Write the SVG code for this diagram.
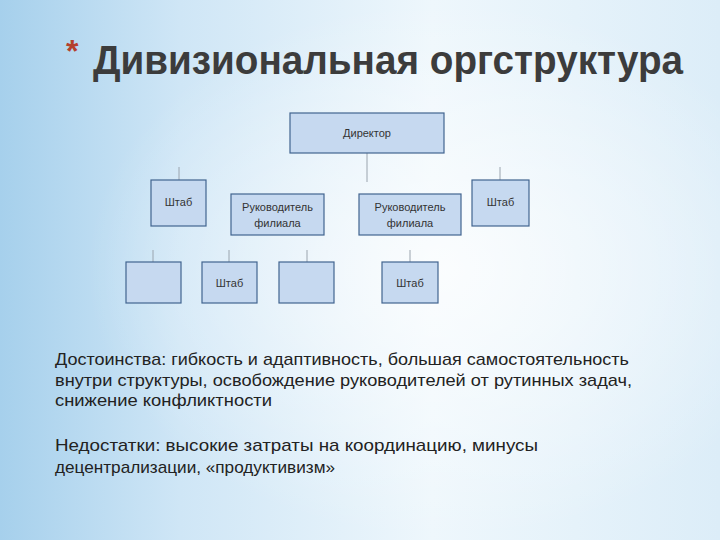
<svg xmlns="http://www.w3.org/2000/svg" width="720" height="540" viewBox="0 0 720 540">
<defs>
<linearGradient id="bg" x1="0" y1="0" x2="1" y2="0">
<stop offset="0" stop-color="#a6d0ec"/>
<stop offset="0.25" stop-color="#cfe6f6"/>
<stop offset="0.6" stop-color="#eef7fc"/>
<stop offset="1" stop-color="#dcedf8"/>
</linearGradient>
<radialGradient id="glow" cx="0.62" cy="0.5" r="0.5">
<stop offset="0" stop-color="#ffffff" stop-opacity="0.75"/>
<stop offset="1" stop-color="#ffffff" stop-opacity="0"/>
</radialGradient>
<style>
.box{fill:#c6d9f0;stroke:#41648f;stroke-width:1.2}
.lbl{font-family:"Liberation Sans","DejaVu Sans",sans-serif;font-size:11px;fill:#333;text-anchor:middle}
.con{stroke:#9aa4ae;stroke-width:1;fill:none}
.body{font-family:"Liberation Sans","DejaVu Sans",sans-serif;font-size:17px;fill:#222}
</style>
</defs>
<rect width="720" height="540" fill="url(#bg)"/>
<rect width="720" height="540" fill="url(#glow)"/>
<g id="title">
<text x="66" y="62" font-family="Liberation Sans,sans-serif" font-size="32" font-weight="bold" fill="#b5402c">*</text>
<text x="93" y="74" font-family="Liberation Sans,DejaVu Sans,sans-serif" font-size="40" font-weight="bold" fill="#3c3c3c" textLength="590" lengthAdjust="spacingAndGlyphs">Дивизиональная оргструктура</text>
</g>
<g id="connectors">
<line class="con" x1="367" y1="153" x2="367" y2="182"/>
<line class="con" x1="179" y1="167" x2="179" y2="180"/>
<line class="con" x1="500" y1="167" x2="500" y2="180"/>
<line class="con" x1="153" y1="250" x2="153" y2="262"/>
<line class="con" x1="229" y1="250" x2="229" y2="262"/>
<line class="con" x1="307" y1="250" x2="307" y2="262"/>
<line class="con" x1="410" y1="250" x2="410" y2="262"/>
</g>
<g id="director"><rect class="box" x="290" y="113" width="154" height="40"/><text class="lbl" x="367" y="137">Директор</text></g>
<g id="shtab-left"><rect class="box" x="151" y="180" width="55" height="46"/><text class="lbl" x="178.5" y="206">Штаб</text></g>
<g id="branch1"><rect class="box" x="231" y="194" width="93" height="41"/><text class="lbl" x="277.5" y="211">Руководитель</text><text class="lbl" x="277.5" y="227">филиала</text></g>
<g id="branch2"><rect class="box" x="359" y="194" width="102" height="41"/><text class="lbl" x="410" y="211">Руководитель</text><text class="lbl" x="410" y="227">филиала</text></g>
<g id="shtab-right"><rect class="box" x="472" y="180" width="57" height="46"/><text class="lbl" x="500.5" y="206">Штаб</text></g>
<g id="b1"><rect class="box" x="126" y="262" width="55" height="41"/></g>
<g id="b2"><rect class="box" x="202" y="262" width="55" height="41"/><text class="lbl" x="229.5" y="287">Штаб</text></g>
<g id="b3"><rect class="box" x="279" y="262" width="55" height="41"/></g>
<g id="b4"><rect class="box" x="382" y="262" width="56" height="41"/><text class="lbl" x="410" y="287">Штаб</text></g>
<g id="text">
<text class="body" x="55" y="365" textLength="574" lengthAdjust="spacingAndGlyphs">Достоинства: гибкость и адаптивность, большая самостоятельность</text>
<text class="body" x="55" y="386" textLength="577" lengthAdjust="spacingAndGlyphs">внутри структуры, освобождение руководителей от рутинных задач,</text>
<text class="body" x="55" y="406" textLength="217" lengthAdjust="spacingAndGlyphs">снижение конфликтности</text>
<text class="body" x="55" y="451" textLength="483" lengthAdjust="spacingAndGlyphs">Недостатки: высокие затраты на координацию, минусы</text>
<text class="body" x="55" y="473" textLength="280" lengthAdjust="spacingAndGlyphs">децентрализации, «продуктивизм»</text>
</g>
</svg>
